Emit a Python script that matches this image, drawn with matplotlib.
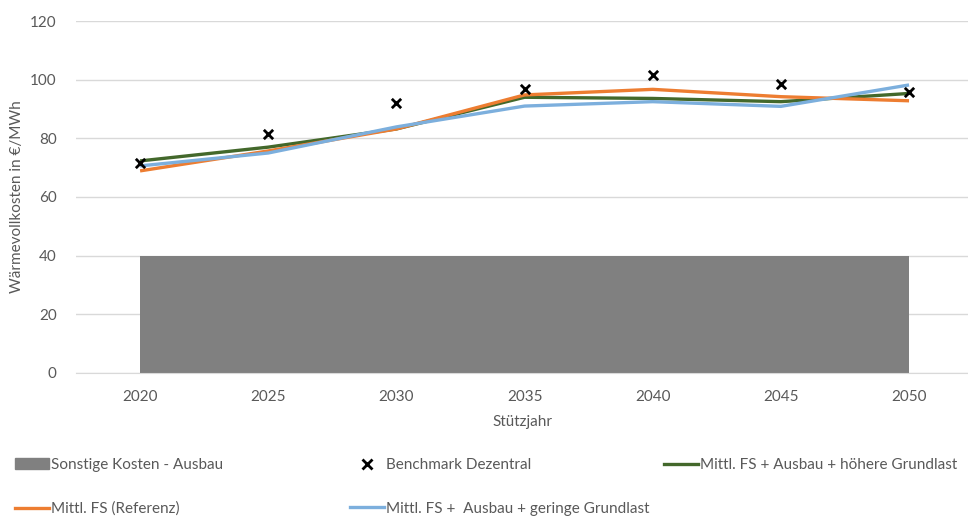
import matplotlib.pyplot as plt
import numpy as np
from matplotlib.patches import Patch
from matplotlib.lines import Line2D

plt.rcParams['font.family'] = ['Lato', 'DejaVu Sans']

# data
years = [2020, 2025, 2030, 2035, 2040, 2045, 2050]
sonstige = [40, 40, 40, 40, 40, 40, 40]
benchmark = [71.6, 81.5, 92.0, 96.8, 101.6, 98.5, 95.8]
hoehere = [72.3, 77.0, 83.2, 94.0, 93.6, 92.5, 95.3]
referenz = [68.9, 75.7, 83.2, 94.8, 96.7, 94.2, 92.8]
geringe = [70.6, 75.0, 83.9, 91.0, 92.5, 90.9, 98.2]

txt = '#595959'
c_gray = '#808080'
c_green = '#43682b'
c_orange = '#ed7d31'
c_blue = '#7cafdd'

fig = plt.figure(figsize=(9.68, 5.16), dpi=100)
ax = fig.add_axes([76 / 968, 143 / 516, 892 / 968, 352 / 516])

ax.fill_between(years, 0, sonstige, color=c_gray, lw=0)
ax.plot(years, hoehere, color=c_green, lw=2.4, solid_capstyle='butt')
ax.plot(years, referenz, color=c_orange, lw=2.4, solid_capstyle='butt')
ax.plot(years, geringe, color=c_blue, lw=2.4, solid_capstyle='butt')
ax.scatter(years, benchmark, marker='x', color='black', s=45, lw=2, zorder=5)

ax.set_xlim(2017.5, 2052.3)
ax.set_ylim(0, 120)
ax.set_yticks(np.arange(0, 121, 20))
ax.set_xticks(years)
ax.grid(axis='y', color='#d9d9d9', lw=1)
ax.set_axisbelow(True)
for s in ['top', 'right', 'left']:
    ax.spines[s].set_visible(False)
ax.spines['bottom'].set_color('#d9d9d9')
ax.tick_params(length=0, labelsize=11, colors=txt)
ax.tick_params(axis='y', pad=14)
ax.tick_params(axis='x', pad=12)
ax.set_xlabel('Stützjahr', fontsize=11, color=txt, labelpad=8)
ax.set_ylabel('Wärmevollkosten in €/MWh', fontsize=11, color=txt, labelpad=4)

# legend, three columns placed separately
h_gray = Patch(color=c_gray)
h_bench = Line2D([], [], ls='none', marker='x', color='black', ms=7, mew=2)
h_green = Line2D([], [], color=c_green, lw=2.4)
h_orange = Line2D([], [], color=c_orange, lw=2.4)
h_blue = Line2D([], [], color=c_blue, lw=2.4)

cols = [
    (15, [h_gray, h_orange], ['Sonstige Kosten - Ausbau', 'Mittl. FS (Referenz)']),
    (350, [h_bench, h_blue], ['Benchmark Dezentral', 'Mittl. FS +  Ausbau + geringe Grundlast']),
    (664, [h_green], ['Mittl. FS + Ausbau + höhere Grundlast']),
]
for x0, hs, ls in cols:
    leg = fig.legend(hs, ls, loc='upper left', bbox_to_anchor=(x0 / 968, 1 - 458 / 516),
                     frameon=False, fontsize=11, labelcolor=txt, handlelength=2.2,
                     handletextpad=0.15, labelspacing=1.95, borderpad=0, borderaxespad=0)

fig.savefig('out.png', dpi=100)
